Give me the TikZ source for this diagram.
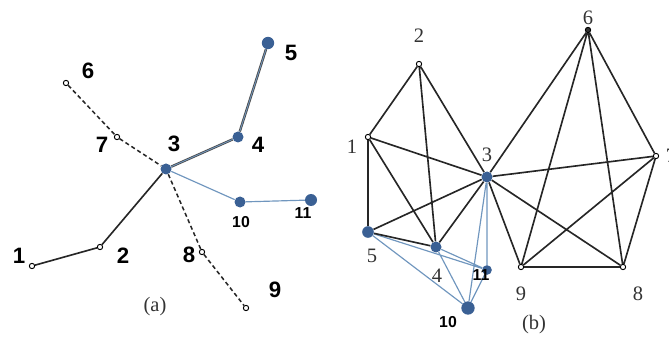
\documentclass[tikz,border=0pt]{standalone}
\usepackage{fontspec}
\setmainfont{Liberation Serif}
\setsansfont{Liberation Sans}
\usetikzlibrary{positioning}
\definecolor{vblue}{RGB}{58,96,148}
\definecolor{eblue}{RGB}{112,150,190}

\begin{document}
\begin{tikzpicture}[x=0.03cm,y=-0.03cm,
  opn/.style={circle,draw,line width=0.8pt,fill=white,inner sep=0pt,minimum size=0.16cm},
  bv/.style={circle,fill=vblue,inner sep=0pt,minimum size=0.33cm},
  ed/.style={line width=1.4pt,black!85},
  dsh/.style={line width=1.3pt,black!85,dash pattern=on 3.5pt off 2.5pt},
  be/.style={line width=1pt,eblue},
  dbl/.style={draw=black!70,double=eblue,double distance=0.7pt,line width=0.7pt},
  lab/.style={font=\sffamily\bfseries\fontsize{19}{21}\selectfont,inner sep=0pt},
  slab/.style={font=\sffamily\bfseries\fontsize{13.5}{15}\selectfont,inner sep=0pt},
  rlab/.style={font=\fontsize{17.5}{19}\selectfont,inner sep=0pt,text=black!80}]
  \useasboundingbox (0,0) rectangle (669,342);

  % (a)
  \node[opn] (a1) at (32,266) {};
  \node[opn] (a2) at (100,247) {};
  \node[opn] (a6) at (66,83) {};
  \node[opn] (a7) at (117,137) {};
  \node[opn] (a8) at (202,252) {};
  \node[opn] (a9) at (246,308) {};
  \node[bv] (a3) at (166,169) {};
  \node[bv] (a4) at (238,137) {};
  \node[bv,minimum size=0.37cm] (a5) at (268,43) {};
  \node[bv] (a10) at (240,202) {};
  \node[bv,minimum size=0.36cm] (a11) at (311,200) {};
  \draw[ed] (a1) -- (a2) -- (a3);
  \draw[dsh] (a6) -- (a7) -- (a3) -- (a8) -- (a9);
  \draw[dbl] (a3) -- (a4) -- (a5);
  \draw[be] (a3) -- (a10) -- (a11);
  \node[lab] (la1) at (19,256) {1};
  \node[lab] (la2) at (123,256) {2};
  \node[lab] (la3) at (174,144) {3};
  \node[lab] (la4) at (258,145) {4};
  \node[lab] (la5) at (291,53) {5};
  \node[lab] (la6) at (88,71) {6};
  \node[lab] (la7) at (102,145) {7};
  \node[lab] (la8) at (189,255) {8};
  \node[lab] (la9) at (275,290) {9};
  \node[slab] (la10) at (241,222) {10};
  \node[slab] (la11) at (303,213) {11};
  \node[rlab] (capa) at (155,307) {(a)};

  % (b)
  \node[opn] (b1) at (368,137) {};
  \node[opn] (b2) at (419,64) {};
  \node[opn,fill=black!80] (b6) at (588,30) {};
  \node[opn] (b7) at (656,156) {};
  \node[opn] (b8) at (623,267) {};
  \node[opn] (b9) at (521,267) {};
  \node[bv] (b3) at (487,177) {};
  \node[bv] (b4) at (436,247) {};
  \node[bv,minimum size=0.35cm] (b5) at (368,232) {};
  \node[bv,minimum size=0.4cm] (b10) at (468,308) {};
  \node[bv,minimum size=0.29cm] (b11) at (487,270) {};
  \draw[be] (b5) -- (b11) (b5) -- (b10) (b4) -- (b11) (b4) -- (b10)
    (b3) -- (b10) (b3) -- (b11) (b10) -- (b11);
  \draw[ed] (b1) -- (b2) (b1) -- (b5) (b1) -- (b4) (b1) -- (b3)
    (b2) -- (b4) (b2) -- (b3) (b5) -- (b3) (b5) -- (b4) (b4) -- (b3)
    (b3) -- (b6) (b3) -- (b7) (b3) -- (b9) (b3) -- (b8)
    (b6) -- (b9) (b6) -- (b8) (b6) -- (b7) (b7) -- (b9) (b7) -- (b8) (b9) -- (b8);
  \node[rlab] (lb1) at (352,147) {1};
  \node[rlab] (lb2) at (419,36) {2};
  \node[rlab] (lb3) at (487,155) {3};
  \node[rlab] (lb4) at (437,276) {4};
  \node[rlab] (lb5) at (372,256) {5};
  \node[rlab] (lb6) at (588,18) {6};
  \node[rlab] (lb7) at (671,156) {7};
  \node[rlab] (lb8) at (638,294) {8};
  \node[rlab] (lb9) at (521,294) {9};
  \node[slab] (lb10) at (448,322) {10};
  \node[slab] (lb11) at (481,275) {11};
  \node[rlab] (capb) at (534,325) {(b)};
\end{tikzpicture}
\end{document}
